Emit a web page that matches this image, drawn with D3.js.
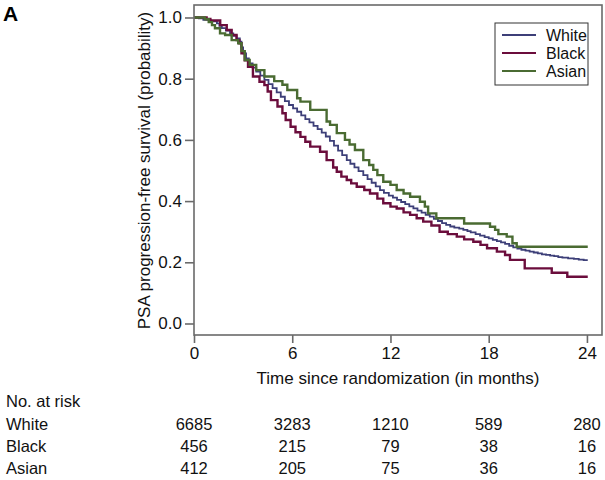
<!DOCTYPE html>
<html>
<head>
<meta charset="utf-8">
<script src="https://cdn.jsdelivr.net/npm/d3@7"></script>
<style>
  html, body { margin: 0; padding: 0; background: #fff; }
  svg { display: block; font-family: "Liberation Sans", Arial, Helvetica, sans-serif; }
</style>
</head>
<body>
<svg id="chart" width="605" height="480"></svg>
<script>
// ---- Data ----
const groups = ["White", "Black", "Asian"];
const groupColors = ["#3d3f78", "#6b0d3c", "#4a6b32"];

const whiteTimes = [0, 0.3, 0.57, 1.0, 1.4, 1.55, 1.7, 1.95, 2.2, 2.4, 2.6, 2.8, 2.9, 3.0, 3.18, 3.35, 3.58, 3.8, 4.05, 4.3, 4.55, 4.8, 5.05, 5.3, 5.55, 5.8, 6.05, 6.3, 6.55, 6.8, 7.05, 7.3, 7.55, 7.8, 8.05, 8.3, 8.55, 8.8, 9.05, 9.33, 9.55, 9.8, 10.05, 10.34, 10.6, 10.85, 11.1, 11.36, 11.6, 11.9, 12.15, 12.4, 12.65, 12.9, 13.15, 13.4, 13.65, 13.9, 14.15, 14.4, 14.65, 14.9, 15.15, 15.4, 15.65, 15.9, 16.2, 16.45, 16.7, 16.9, 17.2, 17.47, 17.75, 18.0, 18.25, 18.5, 18.75, 19.0, 19.25, 19.5, 19.75, 20.0, 20.25, 20.5, 20.75, 21.0, 21.25, 21.5, 21.75, 22.0, 22.25, 22.5, 22.85, 23.2, 23.5, 23.8, 24.05];
const whiteSurv  = [1.0, 0.997, 0.992, 0.987, 0.981, 0.973, 0.965, 0.957, 0.948, 0.940, 0.932, 0.921, 0.902, 0.883, 0.866, 0.850, 0.836, 0.823, 0.810, 0.796, 0.782, 0.769, 0.755, 0.741, 0.727, 0.714, 0.703, 0.692, 0.680, 0.668, 0.657, 0.646, 0.635, 0.624, 0.611, 0.597, 0.581, 0.565, 0.550, 0.534, 0.522, 0.510, 0.498, 0.485, 0.472, 0.460, 0.448, 0.436, 0.427, 0.418, 0.411, 0.404, 0.397, 0.390, 0.383, 0.376, 0.369, 0.362, 0.355, 0.349, 0.342, 0.335, 0.328, 0.322, 0.317, 0.313, 0.310, 0.306, 0.302, 0.298, 0.292, 0.287, 0.282, 0.278, 0.273, 0.269, 0.265, 0.260, 0.254, 0.249, 0.245, 0.241, 0.238, 0.235, 0.232, 0.229, 0.226, 0.224, 0.222, 0.220, 0.217, 0.215, 0.213, 0.211, 0.209, 0.207, 0.207];

const blackTimes = [0, 0.77, 1.0, 1.6, 2.0, 2.3, 2.6, 2.77, 2.9, 3.1, 3.3, 3.6, 4.0, 4.3, 4.5, 4.7, 5.1, 5.4, 5.6, 5.9, 6.2, 6.5, 6.8, 7.1, 7.7, 8.1, 8.5, 8.72, 9.0, 9.33, 9.6, 9.94, 10.4, 10.75, 11.2, 11.56, 12.0, 12.38, 12.8, 13.2, 13.6, 14.0, 14.5, 15.0, 15.5, 16.05, 16.5, 17.06, 17.5, 17.9, 18.5, 19.0, 19.3, 20.2, 21.85, 22.8, 24.05];
const blackSurv  = [1.0, 0.995, 0.990, 0.975, 0.959, 0.943, 0.926, 0.916, 0.883, 0.860, 0.839, 0.807, 0.790, 0.779, 0.758, 0.730, 0.709, 0.687, 0.665, 0.643, 0.625, 0.610, 0.594, 0.578, 0.561, 0.534, 0.510, 0.496, 0.480, 0.469, 0.458, 0.447, 0.436, 0.425, 0.408, 0.393, 0.382, 0.376, 0.363, 0.355, 0.344, 0.333, 0.320, 0.300, 0.292, 0.284, 0.275, 0.267, 0.257, 0.246, 0.235, 0.224, 0.208, 0.180, 0.166, 0.153, 0.153];

const asianTimes = [0, 0.67, 0.9, 1.1, 1.28, 1.59, 1.9, 2.3, 2.7, 2.9, 3.1, 3.4, 3.8, 4.3, 4.9, 5.4, 5.7, 6.3, 6.5, 7.1, 8.1, 8.31, 8.72, 9.22, 9.5, 9.83, 10.34, 10.7, 10.95, 11.2, 11.56, 12.0, 12.38, 12.8, 13.2, 13.8, 14.1, 14.3, 14.8, 16.5, 18.08, 18.39, 18.59, 19.1, 19.45, 19.71, 24.05];
const asianSurv  = [1.0, 0.994, 0.985, 0.975, 0.965, 0.948, 0.943, 0.926, 0.916, 0.890, 0.861, 0.845, 0.828, 0.807, 0.792, 0.780, 0.763, 0.736, 0.725, 0.698, 0.660, 0.649, 0.622, 0.600, 0.585, 0.567, 0.534, 0.518, 0.502, 0.485, 0.463, 0.453, 0.436, 0.425, 0.414, 0.398, 0.382, 0.360, 0.344, 0.327, 0.316, 0.306, 0.292, 0.284, 0.262, 0.251, 0.251];

const xTicks = [0, 6, 12, 18, 24];
const yTicks = [0.0, 0.2, 0.4, 0.6, 0.8, 1.0];

const riskWhite = [6685, 3283, 1210, 589, 280];
const riskBlack = [456, 215, 79, 38, 16];
const riskAsian = [412, 205, 75, 36, 16];

// ---- Build ----
const series = [
  { name: groups[0], color: groupColors[0], times: whiteTimes, surv: whiteSurv, width: 1.8 },
  { name: groups[1], color: groupColors[1], times: blackTimes, surv: blackSurv, width: 2.4 },
  { name: groups[2], color: groupColors[2], times: asianTimes, surv: asianSurv, width: 2.4 }
];
const riskRows = [riskWhite, riskBlack, riskAsian];

const svg = d3.select("#chart");
const frame = { left: 194, right: 602, top: 5, bottom: 335 };

const x = d3.scaleLinear().domain([0, 24.92]).range([frame.left, frame.right]);
const y = d3.scaleLinear().domain([-0.0376, 1.0408]).range([frame.bottom, frame.top]);

const axisColor = "#6a6a6a";
const fontSize = "16.5px";

// Panel letter
svg.append("text").attr("x", 3).attr("y", 21)
  .attr("font-size", "21px").attr("font-weight", "bold").attr("fill", "#000").text("A");

// Curves
const line = d3.line().x(d => x(d[0])).y(d => y(d[1])).curve(d3.curveStepAfter);
[0, 1, 2].forEach(i => {
  const s = series[i];
  const pts = s.times.map((t, k) => [t, s.surv[k]]);
  svg.append("path").datum(pts)
    .attr("d", line)
    .attr("fill", "none")
    .attr("stroke", s.color)
    .attr("stroke-width", s.width)
    .attr("stroke-linejoin", "miter");
});

// Frame
svg.append("rect")
  .attr("x", frame.left).attr("y", frame.top)
  .attr("width", frame.right - frame.left).attr("height", frame.bottom - frame.top)
  .attr("fill", "none").attr("stroke", axisColor).attr("stroke-width", 1.6);

// Axes
const yAxis = d3.axisLeft(y).tickValues(yTicks).tickFormat(d3.format(".1f")).tickSize(9).tickPadding(3);
const gy = svg.append("g").attr("transform", `translate(${frame.left},0)`).call(yAxis);
const xAxis = d3.axisBottom(x).tickValues(xTicks).tickFormat(d3.format("d")).tickSize(8).tickPadding(4);
const gx = svg.append("g").attr("transform", `translate(0,${frame.bottom})`).call(xAxis);
[gy, gx].forEach(g => {
  g.select(".domain").remove();
  g.selectAll(".tick line").attr("stroke", axisColor).attr("stroke-width", 1.6);
  g.selectAll(".tick text").attr("font-size", "17px").attr("fill", "#111")
    .attr("font-family", "'Liberation Sans', Arial, sans-serif");
});
gy.selectAll(".tick text").attr("x", -12);

// Axis titles
svg.append("text")
  .attr("transform", `translate(150,${(y(0) + y(1)) / 2}) rotate(-90)`)
  .attr("text-anchor", "middle").attr("font-size", "17px").attr("fill", "#111")
  .text("PSA progression-free survival (probability)");
svg.append("text")
  .attr("x", (frame.left + frame.right) / 2).attr("y", 384)
  .attr("text-anchor", "middle").attr("font-size", "17px").attr("fill", "#111")
  .text("Time since randomization (in months)");

// Legend
const lg = svg.append("g").attr("transform", "translate(495,23)");
lg.append("rect").attr("x", 0).attr("y", 0).attr("width", 93).attr("height", 62)
  .attr("fill", "#fff").attr("stroke", "#333").attr("stroke-width", 1);
series.forEach((s, i) => {
  const yy = 12 + i * 18;
  lg.append("line").attr("x1", 7).attr("x2", 41).attr("y1", yy).attr("y2", yy)
    .attr("stroke", s.color).attr("stroke-width", 1.8);
  lg.append("text").attr("x", 51).attr("y", yy).attr("dy", "0.36em")
    .attr("font-size", "16px").attr("fill", "#111").text(s.name);
});

// Number at risk table
svg.append("text").attr("x", 6).attr("y", 407).attr("font-size", fontSize).attr("fill", "#111").text("No. at risk");
series.forEach((s, i) => {
  const by = 430 + i * 22.2;
  svg.append("text").attr("x", 6).attr("y", by).attr("font-size", fontSize).attr("fill", "#111").text(s.name);
  riskRows[i].forEach((v, k) => {
    svg.append("text").attr("x", x(xTicks[k])).attr("y", by)
      .attr("text-anchor", "middle").attr("font-size", fontSize).attr("fill", "#111").text(v);
  });
});
</script>
</body>
</html>
